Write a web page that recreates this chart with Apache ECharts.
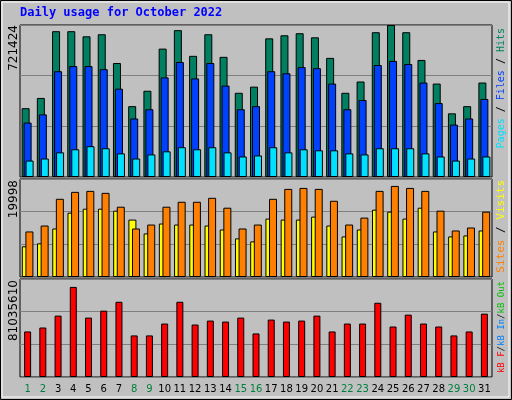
<!DOCTYPE html>
<html><head><meta charset="utf-8">
<script src="https://cdn.jsdelivr.net/npm/echarts@6/dist/echarts.min.js"></script>
<style>html,body{margin:0;padding:0;background:#fff}#c{width:512px;height:400px}</style>
</head><body><div id="c"></div>
<script>
var days = [];
for (let i = 1; i <= 31; i++) days.push(String(i));
var weekend = ['1','2','8','9','15','16','22','23','29','30'];

var hits = [326600,375300,692100,692100,667700,677500,541000,336300,409400,609300,697000,575100,677500,570300,399700,428900,658000,672600,682400,662900,565400,399700,453300,687200,721424,687200,555600,443500,302200,336300,448400];
var files = [258300,297300,502000,526400,526400,511800,419200,277800,321700,472800,545900,467900,541000,433800,321700,336300,502000,492300,521500,516600,443500,321700,365600,531300,550800,536100,448400,350900,248600,277800,370400];
var pages = [78000,87700,117000,131600,146200,136500,112100,87700,107200,121900,141300,131600,141300,117000,97500,102400,141300,117000,131600,126700,126700,112100,107200,136500,136500,136500,112100,97500,78000,87700,97500];
var visits = [6262,6868,9898,13130,13938,13938,13534,11716,8888,10908,10706,10706,10504,9696,7878,7272,11918,11716,11716,12322,10504,8282,9696,13736,13332,11918,14140,9292,8282,8484,9494];
var sites = [9292,10504,15958,17372,17574,17170,14342,9898,10706,14342,15352,15352,16160,14140,9898,10706,15958,17978,18180,17978,15554,10706,12120,17574,18584,18180,17574,13534,9494,10100,13332];
var kbytes = [37650000,40930000,50750000,74490000,49110000,54840000,62210000,34380000,34380000,44200000,62210000,43380000,46660000,45840000,49110000,36020000,47480000,45840000,46660000,50750000,37650000,44200000,44200000,61390000,41750000,51570000,44200000,41750000,34380000,37650000,52390000];

var maxTop = 721424, maxMid = 19998, maxBot = 81035610;
var mono = 'DejaVu Sans Mono';

var chart = echarts.init(document.getElementById('c'));
var grids = [
  {left: 20, right: 20, top: 25, height: 152},
  {left: 20, right: 20, top: 179, height: 98},
  {left: 20, right: 20, top: 279, height: 98}
];
grids.forEach(function (g) {
  g.show = true; g.backgroundColor = '#c0c0c0'; g.borderColor = '#000'; g.borderWidth = 1;
});
function xa(idx, showLabels) {
  return {
    type: 'category', data: days, gridIndex: idx,
    axisLine: {show: false}, axisTick: {show: false},
    axisLabel: {
      show: showLabels, interval: 0, margin: 7, fontSize: 10, fontFamily: 'DejaVu Sans',
      formatter: function (v) { return weekend.indexOf(v) >= 0 ? '{w|' + v + '}' : '{d|' + v + '}'; },
      rich: {w: {color: '#008040', fontSize: 10}, d: {color: '#000', fontSize: 10}}
    }
  };
}
function ya(idx, max) {
  return {
    type: 'value', gridIndex: idx, min: 0, max: max, interval: max / 3,
    axisLabel: {show: false}, axisLine: {show: false}, axisTick: {show: false},
    splitLine: {lineStyle: {color: '#808080', width: 1}}
  };
}
function bar(name, data, color, idx, extra) {
  var s = {
    name: name, type: 'bar', data: data, xAxisIndex: idx, yAxisIndex: idx,
    barWidth: 8, itemStyle: {color: color, borderColor: '#000', borderWidth: 1},
    animation: false
  };
  return Object.assign(s, extra || {});
}
function f(px) { return px + 'px ' + mono; }

chart.setOption({
  backgroundColor: '#c0c0c0',
  grid: grids,
  xAxis: [xa(0, false), xa(1, false), xa(2, true)],
  yAxis: [ya(0, maxTop), ya(1, maxMid), ya(2, maxBot)],
  series: [
    bar('Hits', hits, '#008060', 0, {barGap: '-75%'}),
    bar('Files', files, '#0040ff', 0),
    bar('Pages', pages, '#00e0ff', 0),
    bar('Visits', visits, '#ffff00', 1, {barGap: '-55%'}),
    bar('Sites', sites, '#ff8000', 1),
    bar('kB F', kbytes, '#ff0000', 2, {barWidth: 7})
  ],
  graphic: [
    {type: 'rect', shape: {x: 0.5, y: 0.5, width: 511, height: 399}, style: {fill: 'none', stroke: '#000', lineWidth: 1}},
    {type: 'rect', shape: {x: 2, y: 2, width: 507, height: 395}, style: {fill: 'none', stroke: '#fff', lineWidth: 1}},
    {type: 'text', left: 20, top: 7, style: {text: 'Daily usage for October 2022', fill: '#0000ff', font: 'bold 12px ' + mono}},
    {type: 'text', x: 8, y: 25, rotation: Math.PI / 2, style: {text: String(maxTop), fill: '#000', font: '12px DejaVu Sans', align: 'right', verticalAlign: 'top'}},
    {type: 'text', x: 8, y: 180, rotation: Math.PI / 2, style: {text: String(maxMid), fill: '#000', font: '12px DejaVu Sans', align: 'right', verticalAlign: 'top'}},
    {type: 'text', x: 8, y: 280, rotation: Math.PI / 2, style: {text: String(maxBot), fill: '#000', font: '12px DejaVu Sans', align: 'right', verticalAlign: 'top'}},
    {type: 'text', x: 496, y: 28, rotation: Math.PI / 2, style: {
      text: '{p|Pages}{s| / }{f|Files}{s| / }{h|Hits}', align: 'right', verticalAlign: 'top', font: f(10),
      rich: {p: {fill: '#00e0ff', font: f(10)}, f: {fill: '#0040ff', font: f(10)}, h: {fill: '#008060', font: f(10)}, s: {fill: '#000', font: f(10)}}
    }},
    {type: 'text', x: 496, y: 180, rotation: Math.PI / 2, style: {
      text: '{t|Sites}{s| / }{v|Visits}', align: 'right', verticalAlign: 'top', font: f(11),
      rich: {t: {fill: '#ff8000', font: f(11)}, v: {fill: '#ffff00', font: f(11)}, s: {fill: '#000', font: f(11)}}
    }},
    {type: 'text', x: 497, y: 281, rotation: Math.PI / 2, style: {
      text: '{r|kB F}{s|/}{i|kB In}{s|/}{o|kB Out}', align: 'right', verticalAlign: 'top', font: f(9),
      rich: {r: {fill: '#ff0000', font: f(9)}, i: {fill: '#0080ff', font: f(9)}, o: {fill: '#00c000', font: f(9)}, s: {fill: '#000', font: f(9)}}
    }}
  ]
});
</script></body></html>
